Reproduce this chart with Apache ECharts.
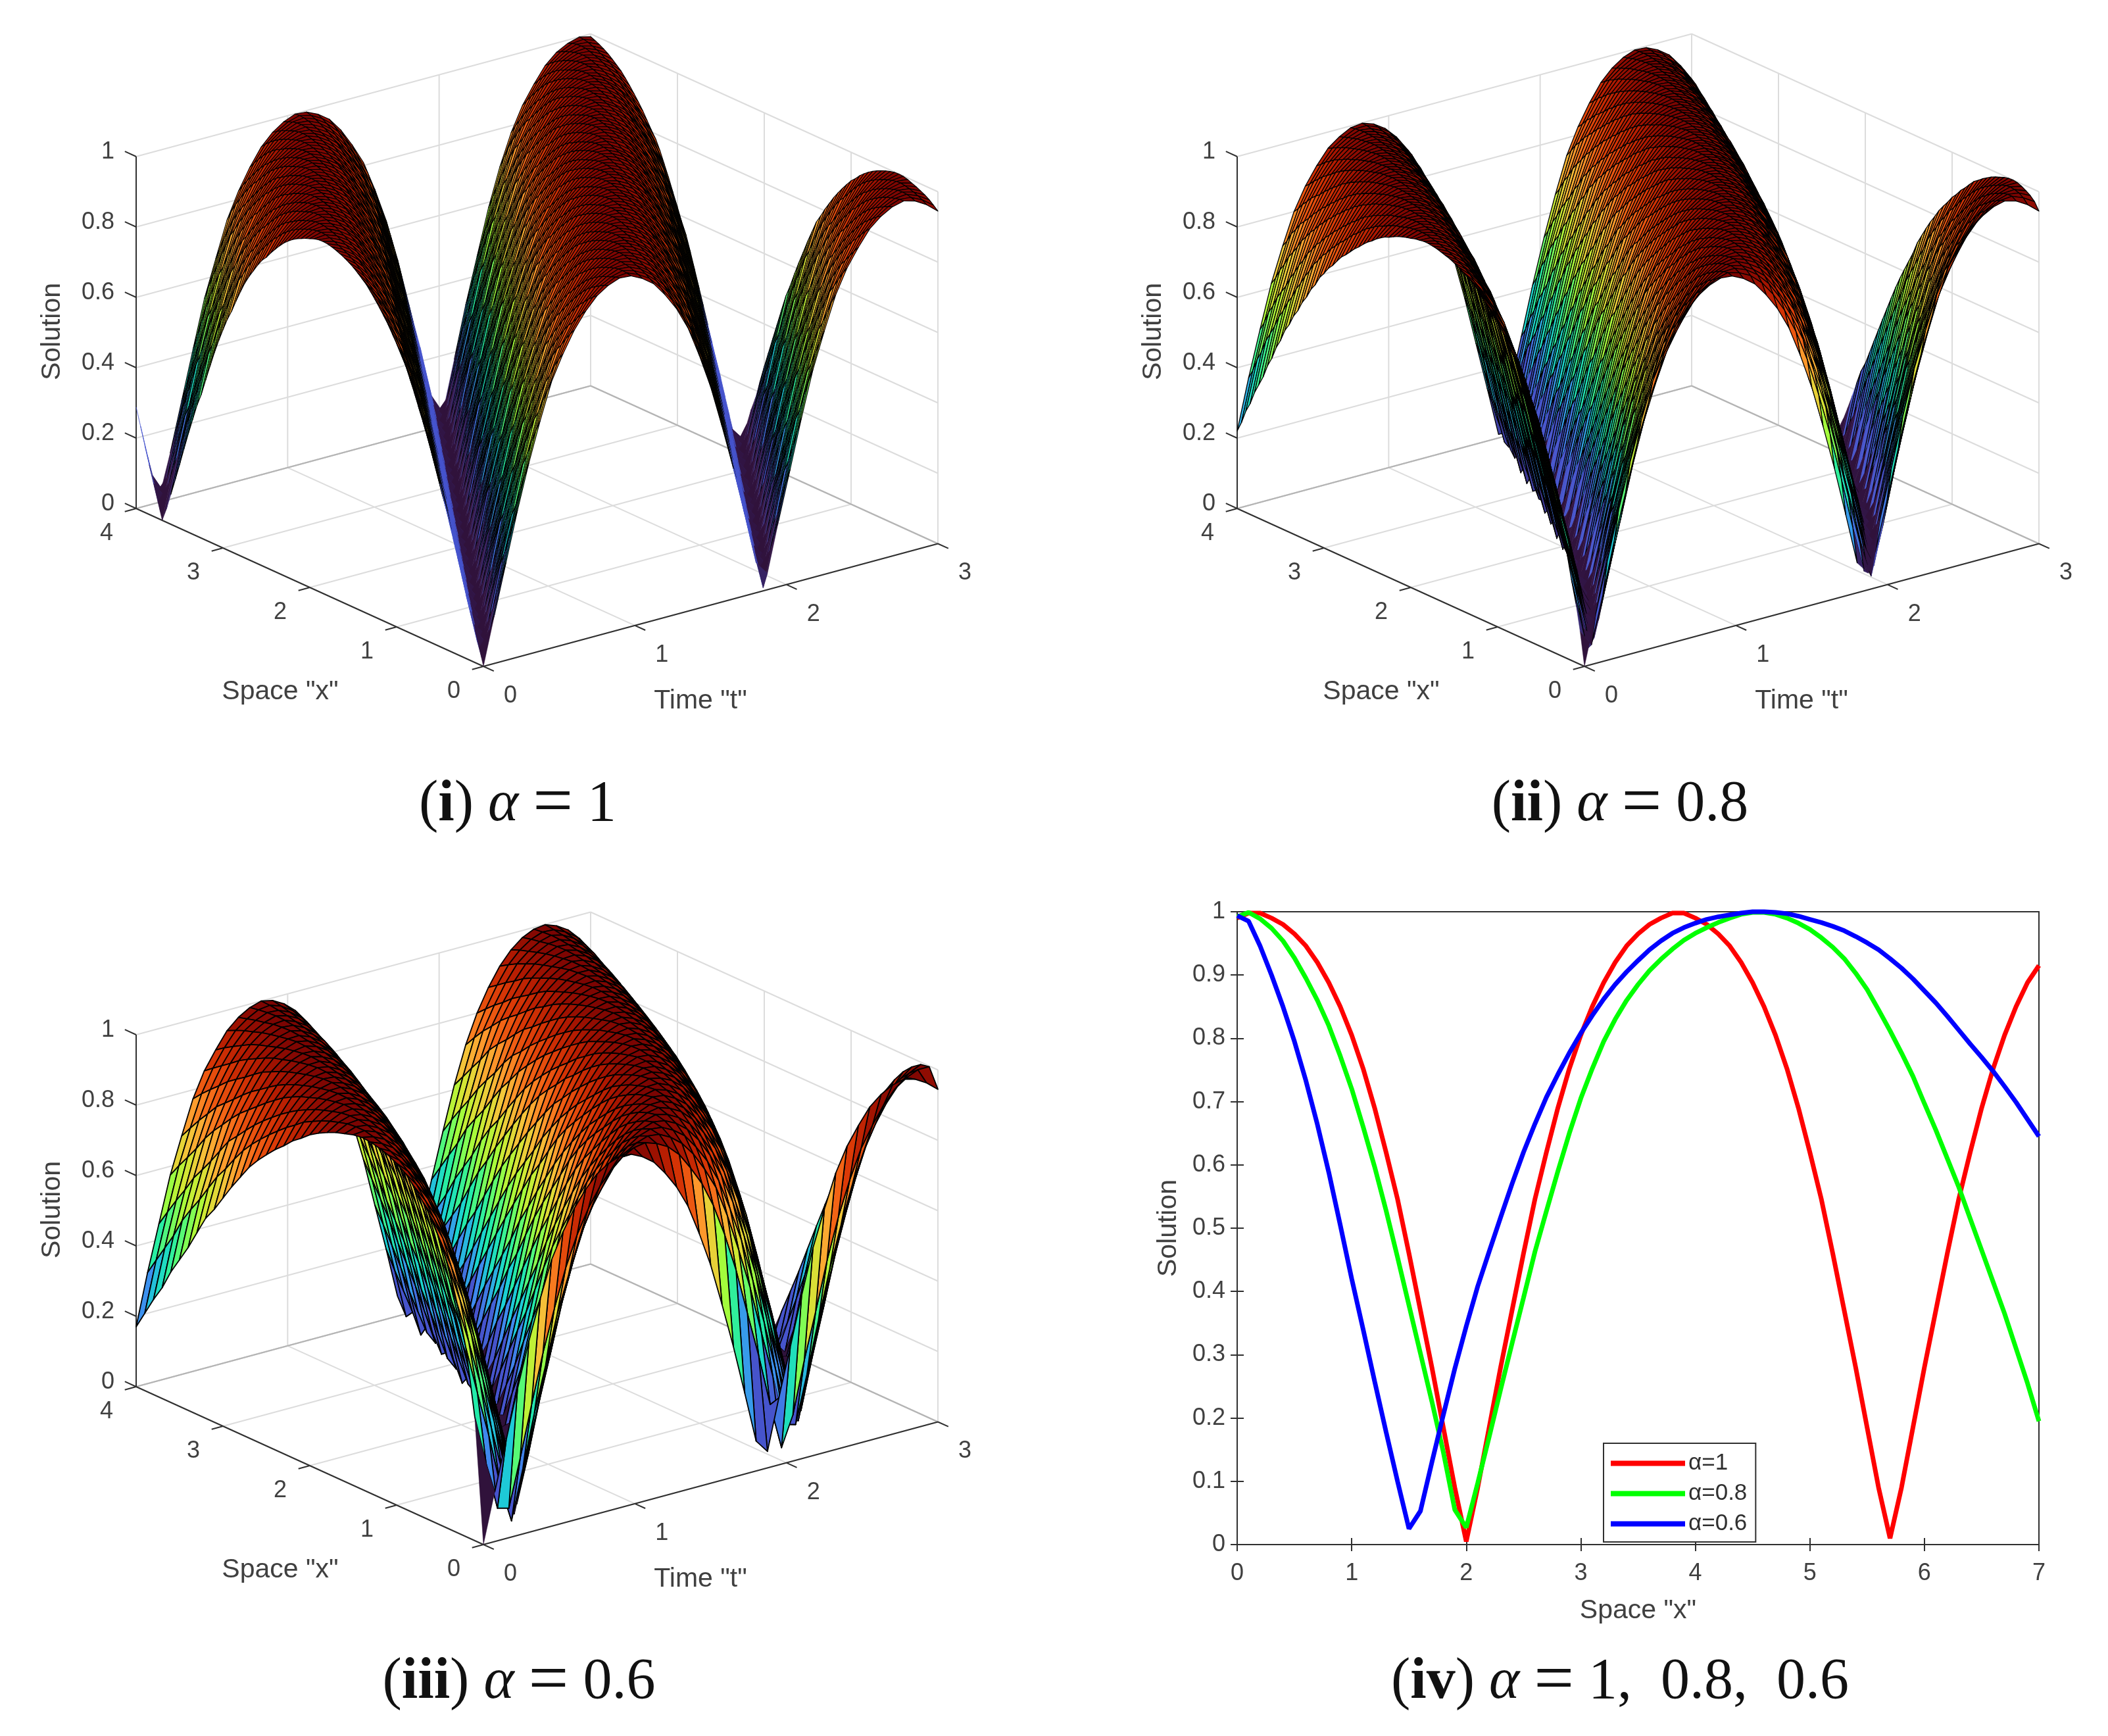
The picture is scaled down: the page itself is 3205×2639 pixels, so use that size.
<!DOCTYPE html>
<html>
<head>
<meta charset="utf-8">
<title>Solution surfaces</title>
<script src="https://cdn.jsdelivr.net/npm/echarts@6/dist/echarts.min.js"></script>
<style>
  html, body { margin: 0; padding: 0; background: #fff; }
  #main { width: 3205px; height: 2639px; }
</style>
</head>
<body>
<div id="main"></div>
<script>
// tick labels
var xTicks3d = [0, 1, 2, 3, 4];
var tTicks3d = [0, 1, 2, 3];
var zTicks3d = [0, 0.2, 0.4, 0.6, 0.8, 1];

var crestRise = [0, .01, .019, .029, .038, .047, .057, .066, .075, .085, .094, .104, .113, .122, .132, .141,
  .15, .16, .17, .18, .19, .2, .21, .22, .23, .24, .25, .26, .27, .279, .288, .297,
  .306, .315, .325, .334, .343, .352, .362, .371, .38, .389, .399, .408, .417, .426, .436, .445,
  .454, .463, .472, .481, .49, .499, .508, .516, .525, .534, .543, .551, .56, .568, .575, .583,
  .59, .598, .605, .613, .62, .627, .634, .641, .648, .655, .663, .67, .677, .684, .691, .698,
  .705, .711, .718, .724, .73, .737, .744, .75, .757, .763, .769, .774, .78, .785, .79, .795,
  .8, .805, .809, .814, .818, .823, .827, .832, .836, .84, .845, .849, .853, .857, .861, .864,
  .868, .872, .875, .879, .882, .886, .889, .893, .896, .9, .903, .907, .91, .913, .916, .919,
  .922, .925, .928, .931, .934, .937, .94, .942, .945, .947, .95, .952, .954, .956, .958, .96,
  .962, .964, .966, .967, .969, .971, .972, .974, .975, .977, .978, .98, .981, .982, .984, .985,
  .986, .987, .988, .989, .99, .991, .992, .993, .994, .995, .996, .996, .997, .998, .998, .999,
  .999, .999, 1, 1, 1];
var crestFall = crestRise.slice(1, -1).reverse();
var waveHeights = crestRise.concat(crestFall);

// where each time node sits on the wave
var timeSteps = [0, 15, 29, 44, 58, 73, 88, 102, 117, 131, 146, 161, 175, 190, 205, 219, 234, 248, 263, 278, 292,
  307, 321, 336, 351, 365, 380, 394, 409, 424, 438, 453, 468, 482, 497, 511, 526, 541, 555, 570, 584];

// where each space node sits on the wave, one list per alpha
var spaceSteps1 = [0, 5, 10, 15, 19, 24, 29, 34, 39, 44, 49, 54, 58, 63, 68, 73, 78, 83, 88, 93, 97, 102, 107, 112, 117, 122, 127,
  132, 136, 141, 146, 151, 156, 161, 166, 170, 175, 180, 185, 190, 195, 200, 205, 209, 214, 219, 224, 229, 234, 239, 244, 248, 253,
  258, 263, 268, 273, 278, 283, 287, 292, 297, 302, 307, 312, 317, 321, 326, 331, 336, 341, 346, 351, 356, 360, 365, 370, 375, 380, 385, 390];
var spaceSteps08 = [0, 10, 18, 24, 31, 37, 42, 48, 53, 59, 64, 69, 74, 79, 84, 88, 93, 98, 102, 107, 111, 116, 120, 124, 129, 133, 137,
  141, 145, 150, 154, 158, 162, 166, 170, 174, 178, 182, 186, 190, 194, 197, 201, 205, 209, 213, 216, 220, 224, 228, 231, 235, 239,
  242, 246, 250, 253, 257, 261, 264, 268, 271, 275, 278, 282, 285, 289, 292, 296, 299, 303, 306, 310, 313, 317, 320, 323, 327, 330, 334, 337];
var spaceSteps06 = [0, 37, 57, 72, 86, 98, 110, 120, 130, 140, 149, 158, 166, 174, 182, 190, 198, 205, 212, 219, 226,
  233, 239, 246, 252, 258, 264, 270, 276, 282, 288, 294, 299, 305, 311, 316, 321, 327, 332, 337, 342];

// 2D panel
var xCategories = [];
for (var n = 0; n <= 70; n++) xCategories.push(n / 10);
var curve1 = [.99, .998, .998, .99, .98, .965, .946, .92, .888, .85, .805, .752, .69, .62, .546, .46, .37, .28, .185, .09, .005,
  .09, .185, .28, .37, .46, .546, .62, .69, .752, .805, .85, .888, .92, .946, .965, .98, .99, .998, .998, .99,
  .98, .965, .946, .92, .888, .85, .805, .752, .69, .62, .546, .46, .37, .28, .185, .09, .01,
  .09, .185, .28, .37, .46, .546, .62, .69, .752, .805, .85, .888, .915];
var curve08 = [.992, .999, .989, .974, .954, .927, .895, .86, .82, .772, .72, .66, .597, .528, .454, .378, .302, .226, .146, .055, .027,
  .097, .17, .245, .318, .39, .463, .527, .59, .65, .705, .752, .795, .83, .86, .885, .907, .925, .941, .955, .966,
  .975, .983, .99, .996, .999, .999, .996, .99, .982, .972, .959, .944, .926, .903, .877, .845, .812, .777, .74, .697,
  .655, .61, .565, .515, .465, .415, .365, .31, .255, .195];
var curve06 = [.994, .985, .946, .9, .85, .795, .733, .664, .588, .505, .42, .34, .258, .178, .1, .025, .053, .13, .205, .278, .345,
  .408, .463, .517, .57, .62, .665, .707, .743, .777, .808, .836, .862, .885, .905, .923, .94, .954, .966, .975, .982,
  .988, .992, .995, .998, 1, 1, .999, .997, .993, .988, .983, .977, .97, .961, .951, .94, .926, .911, .894, .875,
  .856, .835, .813, .791, .77, .748, .724, .699, .672, .645];

var textColor = '#404040';
var gridColor = '#dcdcdc';
var axisColor = '#303030';
var troughBlue = '#4654cc';
var tickFont = '36px "Liberation Sans"';
var nameFont = '41px "Liberation Sans"';
var colourRamp = ['#30123b', '#32164a', '#4654cc', '#3f8cf0', '#1bcfd4', '#24eca6', '#61fc6c', '#a4fc3b', '#d1e834',
  '#f3c63a', '#fe9b2d', '#f36315', '#d93806', '#b11901', '#7a0402'];

var panels = [
  { left: 207, top: 48, spaceSteps: spaceSteps1, edgeBack: 0.42, edgeFront: 0.13, edgeWidth: 1.15, blueFrom: 1, blueBack: false },
  { left: 1881, top: 48, spaceSteps: spaceSteps08, edgeBack: 0.1, edgeFront: 0.12, edgeWidth: 1.3, blueFrom: 0.05, blueBack: false },
  { left: 207, top: 1383, spaceSteps: spaceSteps06, edgeBack: 0.03, edgeFront: 0.03, edgeWidth: 1.8, blueFrom: 0.025, blueBack: true }
];

// the box of the 3D plot in grid units
var box = { width: 1219, height: 965, originU: 528, xU: -528, xV: 240, tU: 691, tV: 186.5, zV: 535 };

function project(api, x, t, z) {
  return api.coord([
    box.originU + x / 4 * box.xU + t / 3 * box.tU,
    x / 4 * box.xV + t / 3 * box.tV + z * box.zV
  ]);
}

function heightAt(panel, i, j) {
  return waveHeights[Math.abs(panel.spaceSteps[i] - timeSteps[j]) % waveHeights.length];
}

function frameSegments() {
  var segs = [];
  xTicks3d.forEach(function (x) {
    segs.push([x, 0, 0, x, 3, 0, 0]);
    segs.push([x, 3, 0, x, 3, 1, 0]);
  });
  tTicks3d.forEach(function (t) {
    segs.push([0, t, 0, 4, t, 0, 0]);
    segs.push([4, t, 0, 4, t, 1, 0]);
  });
  zTicks3d.forEach(function (z) {
    segs.push([4, 0, z, 4, 3, z, 0]);
    segs.push([0, 3, z, 4, 3, z, 0]);
  });
  segs.push([4, 3, 0, 0, 3, 0, 2]);
  segs.push([4, 3, 0, 4, 0, 0, 2]);
  // axes and their ticks
  segs.push([0, 0, 0, 4, 0, 0, 1]);
  segs.push([0, 0, 0, 0, 3, 0, 1]);
  segs.push([4, 0, 0, 4, 0, 1, 1]);
  xTicks3d.forEach(function (x) { segs.push([x, 0, 0, x, -0.075, 0, 1]); });
  tTicks3d.forEach(function (t) { segs.push([0, t, 0, -0.12, t, 0, 1]); });
  zTicks3d.forEach(function (z) { segs.push([4, 0, z, 4.13, 0, z, 1]); });
  return segs;
}

function frameSeries(index) {
  return {
    type: 'custom',
    coordinateSystem: 'cartesian2d',
    xAxisIndex: index,
    yAxisIndex: index,
    silent: true,
    data: frameSegments(),
    renderItem: function (params, api) {
      var kind = api.value(6);
      var a = project(api, api.value(0), api.value(1), api.value(2));
      var b = project(api, api.value(3), api.value(4), api.value(5));
      return {
        type: 'line',
        shape: { x1: a[0], y1: a[1], x2: b[0], y2: b[1] },
        style: { stroke: kind === 1 ? axisColor : kind === 2 ? '#b4b4b4' : gridColor, lineWidth: 2 }
      };
    }
  };
}

function surfaceSeries(index) {
  var panel = panels[index];
  var data = [];
  // back corner first so nearer faces paint over farther ones
  for (var i = panel.spaceSteps.length - 2; i >= 0; i--) {
    for (var j = timeSteps.length - 2; j >= 0; j--) {
      data.push([i, j, heightAt(panel, i, j)]);
    }
  }
  var xStep = 4 / (panel.spaceSteps.length - 1);
  var tStep = 3 / (timeSteps.length - 1);
  return {
    type: 'custom',
    coordinateSystem: 'cartesian2d',
    xAxisIndex: index,
    yAxisIndex: index,
    silent: true,
    progressive: 0,
    dimensions: ['xNode', 'tNode', 'colour'],
    encode: { x: 0, y: 1 },
    data: data,
    renderItem: function (params, api) {
      var i = api.value(0), j = api.value(1), z = api.value(2);
      var corners = [[i, j], [i + 1, j], [i + 1, j + 1], [i, j + 1]].map(function (c) {
        return project(api, c[0] * xStep, c[1] * tStep, heightAt(panel, c[0], c[1]));
      });
      // trough faces carry no visible edges in the reference
      var side = (panel.spaceSteps[i] - timeSteps[j]) % waveHeights.length;
      var back = side > 0 ? side < 180 : side < -180;
      var lined = z >= (back ? panel.edgeBack : panel.edgeFront);
      var fill = api.visual('color');
      if (!lined && back && z >= 0.1) fill = troughBlue;
      if (z >= panel.blueFrom && z < 0.16 && (panel.blueBack || !back)) fill = troughBlue;
      return {
        type: 'polygon',
        shape: { points: corners },
        style: {
          fill: fill,
          stroke: lined ? '#000' : fill,
          lineWidth: lined ? panel.edgeWidth : 0.5,
          lineJoin: 'round'
        }
      };
    }
  };
}

function labelSeries(index) {
  var items = [];
  xTicks3d.forEach(function (x) { items.push(['x', x]); });
  tTicks3d.forEach(function (t) { items.push(['t', t]); });
  zTicks3d.forEach(function (z) { items.push(['z', z]); });
  return {
    type: 'custom',
    coordinateSystem: 'cartesian2d',
    xAxisIndex: index,
    yAxisIndex: index,
    silent: true,
    data: items.map(function (it, k) { return [k]; }),
    renderItem: function (params, api) {
      var it = items[params.dataIndex];
      var p, off, align = 'center';
      if (it[0] === 'x') { p = project(api, it[1], 0, 0); off = [-45, 38]; }
      if (it[0] === 't') { p = project(api, 0, it[1], 0); off = [41, 45]; }
      if (it[0] === 'z') { p = project(api, 4, 0, it[1]); off = [-33, -7]; align = 'right'; }
      return {
        type: 'text',
        x: p[0] + off[0],
        y: p[1] + off[1],
        style: { text: String(it[1]), font: tickFont, fill: textColor, align: align, verticalAlign: 'middle' }
      };
    }
  };
}

var grids = [], xAxes = [], yAxes = [], series = [];
panels.forEach(function (panel, index) {
  grids.push({ left: panel.left, top: panel.top, width: box.width, height: box.height });
  xAxes.push({ type: 'value', gridIndex: index, min: 0, max: box.width, show: false });
  yAxes.push({ type: 'value', gridIndex: index, min: 0, max: box.height, show: false });
});
panels.forEach(function (panel, index) { series.push(frameSeries(index)); });
panels.forEach(function (panel, index) { series.push(surfaceSeries(index)); });
panels.forEach(function (panel, index) { series.push(labelSeries(index)); });

// panel iv
grids.push({ left: 1881, top: 1386, width: 1219, height: 962, show: true, borderColor: axisColor, borderWidth: 2, backgroundColor: 'transparent' });
var tick2d = { inside: true, length: 10, lineStyle: { color: axisColor, width: 2 } };
var line2d = { lineStyle: { color: axisColor, width: 2 } };
xAxes.push({
  type: 'value', gridIndex: 3, min: 0, max: 7, interval: 1,
  name: 'Space "x"', nameLocation: 'middle', nameGap: 80,
  nameTextStyle: { fontFamily: 'Liberation Sans', fontSize: 41, color: textColor },
  axisLine: line2d, axisTick: tick2d, splitLine: { show: false },
  axisLabel: { fontFamily: 'Liberation Sans', fontSize: 36, color: textColor, margin: 26 }
});
xAxes.push({
  type: 'value', gridIndex: 3, min: 0, max: 7, interval: 1, position: 'top',
  axisLine: line2d, axisTick: tick2d, splitLine: { show: false }, axisLabel: { show: false }
});
yAxes.push({
  type: 'value', gridIndex: 3, min: 0, max: 1, interval: 0.1,
  name: 'Solution', nameLocation: 'middle', nameGap: 84,
  nameTextStyle: { fontFamily: 'Liberation Sans', fontSize: 41, color: textColor },
  axisLine: line2d, axisTick: tick2d, splitLine: { show: false },
  axisLabel: { fontFamily: 'Liberation Sans', fontSize: 36, color: textColor, margin: 18 }
});
yAxes.push({
  type: 'value', gridIndex: 3, min: 0, max: 1, interval: 0.1, position: 'right',
  axisLine: line2d, axisTick: tick2d, splitLine: { show: false }, axisLabel: { show: false }
});

[['α=1', curve1, '#ff0000'], ['α=0.8', curve08, '#00ff00'], ['α=0.6', curve06, '#0000ff']].forEach(function (c) {
  series.push({
    name: c[0],
    type: 'line',
    xAxisIndex: 3,
    yAxisIndex: 3,
    symbol: 'none',
    clip: false,
    lineStyle: { color: c[2], width: 7 },
    itemStyle: { color: c[2] },
    data: xCategories.map(function (x, i) { return [x, c[1][i]]; })
  });
});

function axisText(text, x, y, rotate) {
  return {
    type: 'text',
    x: x,
    y: y,
    rotation: rotate ? Math.PI / 2 : 0,
    style: { text: text, font: nameFont, fill: textColor, align: 'center', verticalAlign: 'middle' }
  };
}
var panelShift = [[0, 0], [1674, 0], [0, 1335]];
var axisTexts = [];
panelShift.forEach(function (s) {
  axisTexts.push(axisText('Space "x"', 426 + s[0], 1052 + s[1]));
  axisTexts.push(axisText('Time "t"', 1065 + s[0], 1066 + s[1]));
  axisTexts.push(axisText('Solution', 80 + s[0], 504 + s[1], true));
});

var captionRich = {
  p: { fontFamily: 'Liberation Serif', fontSize: 88, fontWeight: 'normal', color: '#111' },
  b: { fontFamily: 'Liberation Serif', fontSize: 88, fontWeight: 'bold', color: '#111' },
  a: { fontFamily: 'Liberation Serif', fontSize: 88, fontWeight: 'normal', fontStyle: 'italic', color: '#111' },
  e: { fontFamily: 'Liberation Serif', fontSize: 108, fontWeight: 'normal', color: '#111' }
};
function caption(num, rest, x, y) {
  return {
    text: '{p|(}{b|' + num + '}{p|) }{a|α}{p| }{e|=}{p| ' + rest + '}',
    left: x,
    top: y,
    textAlign: 'center',
    textVerticalAlign: 'middle',
    padding: 0,
    textStyle: { rich: captionRich }
  };
}

var chart = echarts.init(document.getElementById('main'), null, { renderer: 'canvas' });
chart.setOption({
  animation: false,
  backgroundColor: '#fff',
  title: [
    caption('i', '1', 787, 1224),
    caption('ii', '0.8', 2463, 1224),
    caption('iii', '0.6', 789, 2558),
    caption('iv', '1,  0.8,  0.6', 2463, 2558)
  ],
  legend: {
    data: ['α=1', 'α=0.8', 'α=0.6'],
    orient: 'vertical',
    left: 2438,
    top: 2194,
    icon: 'rect',
    itemWidth: 113,
    itemHeight: 8,
    itemGap: 11,
    padding: [13, 13, 10, 11],
    itemTextGap: 7,
    backgroundColor: '#fff',
    borderColor: axisColor,
    borderWidth: 2,
    borderRadius: 0,
    textStyle: { fontFamily: 'Liberation Sans', fontSize: 35, lineHeight: 32, color: '#303030' }
  },
  visualMap: {
    show: false,
    seriesIndex: [3, 4, 5],
    dimension: 2,
    min: 0,
    max: 1,
    inRange: { color: colourRamp }
  },
  graphic: axisTexts,
  grid: grids,
  xAxis: xAxes,
  yAxis: yAxes,
  series: series
});
</script>
</body>
</html>
